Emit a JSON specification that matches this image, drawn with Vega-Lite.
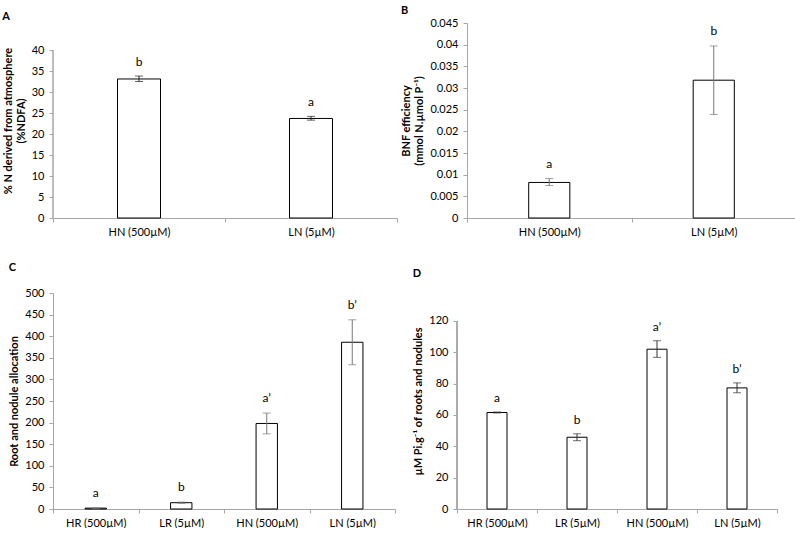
{
  "$schema": "https://vega.github.io/schema/vega-lite/v6.json",
  "padding": {"left": 2, "top": 5, "right": 0, "bottom": 0},
  "background": "white",
  "config": {
    "font": "Lato",
    "view": {"stroke": null},
    "axis": {"labelFont": "Lato", "labelFontSize": 11, "labelColor": "#000", "titleFont": "Lato", "titleFontSize": 11, "titleFontWeight": "bold", "titleColor": "#000", "domainColor": "#a6a6a6", "tickColor": "#a6a6a6", "tickSize": 4, "grid": false},
    "axisY": {"labelPadding": 5, "titlePadding": 5, "titleLineHeight": 13},
    "axisX": {"labelPadding": 4, "labelAngle": 0},
    "title": {"font": "Lato", "fontSize": 11, "fontWeight": "bold", "anchor": "start", "frame": "bounds", "color": "#000"}
  },
  "datasets": {
    "a": [
      {"group": "HN (500µM)", "value": 33.1, "low": 32.5, "high": 33.8, "letter": "b"},
      {"group": "LN (5µM)", "value": 23.7, "low": 23.3, "high": 24.2, "letter": "a"}
    ],
    "b": [
      {"group": "HN (500µM)", "value": 0.0082, "low": 0.0075, "high": 0.0091, "letter": "a"},
      {"group": "LN (5µM)", "value": 0.0318, "low": 0.0239, "high": 0.0397, "letter": "b"}
    ],
    "c": [
      {"group": "HR (500µM)", "value": 2, "low": 1.5, "high": 2.5, "letter": "a"},
      {"group": "LR (5µM)", "value": 14.6, "low": 13, "high": 16, "letter": "b"},
      {"group": "HN (500µM)", "value": 198, "low": 174, "high": 222, "letter": "a’"},
      {"group": "LN (5µM)", "value": 386, "low": 334, "high": 438, "letter": "b’"}
    ],
    "d": [
      {"group": "HR (500µM)", "value": 61.6, "low": 61.3, "high": 61.9, "letter": "a"},
      {"group": "LR (5µM)", "value": 45.8, "low": 43.6, "high": 48, "letter": "b"},
      {"group": "HN (500µM)", "value": 102, "low": 96.8, "high": 107.4, "letter": "a’"},
      {"group": "LN (5µM)", "value": 77.3, "low": 74.2, "high": 80.5, "letter": "b’"}
    ]
  },
  "spacing": 25,
  "vconcat": [
    {
      "spacing": 2,
      "hconcat": [
        {
          "title": {"text": "A", "offset": 1},
          "width": 344, "height": 195,
          "data": {"name": "a"},
          "encoding": {"x": {"field": "group", "type": "nominal", "sort": null, "scale": {"paddingInner": 0, "paddingOuter": 0}, "axis": {"title": null, "tickBand": "extent"}}},
          "layer": [
            {"mark": {"type": "rule", "color": "#a6a6a6"},
             "encoding": {"x": {"datum": "HN (500µM)", "type": "nominal", "bandPosition": 0}, "y": {"datum": 0, "type": "quantitative", "scale": {"domain": [0, 46.43], "nice": false}, "axis": {"title": ["% N derived from atmosphere", "(%NDFA)"], "domain": false, "values": [0, 5, 10, 15, 20, 25, 30, 35, 40]}}, "y2": {"datum": 40}}},
            {"mark": {"type": "bar", "fill": "white", "stroke": "#000", "strokeWidth": 1, "width": {"band": 0.25}},
             "encoding": {"y": {"field": "value", "type": "quantitative", "axis": {"title": ["% N derived from atmosphere", "(%NDFA)"], "domain": false, "values": [0, 5, 10, 15, 20, 25, 30, 35, 40]}}}},
            {"mark": {"type": "errorbar", "color": "#222", "ticks": {"size": 8}},
             "encoding": {"y": {"field": "low", "type": "quantitative", "axis": {"title": ["% N derived from atmosphere", "(%NDFA)"], "domain": false, "values": [0, 5, 10, 15, 20, 25, 30, 35, 40]}}, "y2": {"field": "high"}}},
            {"mark": {"type": "text", "dy": -14, "fontSize": 12, "font": "Lato", "fill": "#000"},
             "encoding": {"y": {"field": "high", "type": "quantitative", "axis": {"title": ["% N derived from atmosphere", "(%NDFA)"], "domain": false, "values": [0, 5, 10, 15, 20, 25, 30, 35, 40]}}, "text": {"field": "letter"}}}
          ]
        },
        {
          "title": {"text": "B", "offset": 1},
          "width": 329, "height": 195,
          "data": {"name": "b"},
          "encoding": {"x": {"field": "group", "type": "nominal", "sort": null, "scale": {"paddingInner": 0, "paddingOuter": 0}, "axis": {"title": null, "tickBand": "extent"}}},
          "layer": [
            {"mark": {"type": "bar", "fill": "white", "stroke": "#000", "strokeWidth": 1, "width": {"band": 0.25}},
             "encoding": {"y": {"field": "value", "type": "quantitative", "scale": {"domain": [0, 0.045], "nice": false}, "axis": {"title": ["BNF efficiency", "(mmol N.µmol P⁻¹)"], "format": "~f", "values": [0, 0.005, 0.01, 0.015, 0.02, 0.025, 0.03, 0.035, 0.04, 0.045]}}}},
            {"mark": {"type": "errorbar", "color": "#777", "ticks": {"size": 8}},
             "encoding": {"y": {"field": "low", "type": "quantitative", "axis": {"title": ["BNF efficiency", "(mmol N.µmol P⁻¹)"], "format": "~f", "values": [0, 0.005, 0.01, 0.015, 0.02, 0.025, 0.03, 0.035, 0.04, 0.045]}}, "y2": {"field": "high"}}},
            {"mark": {"type": "text", "dy": -15, "fontSize": 12, "font": "Lato", "fill": "#000"},
             "encoding": {"y": {"field": "high", "type": "quantitative", "axis": {"title": ["BNF efficiency", "(mmol N.µmol P⁻¹)"], "format": "~f", "values": [0, 0.005, 0.01, 0.015, 0.02, 0.025, 0.03, 0.035, 0.04, 0.045]}}, "text": {"field": "letter"}}}
          ]
        }
      ]
    },
    {
      "spacing": 16,
      "hconcat": [
        {
          "title": {"text": "C", "offset": 14},
          "width": 342, "height": 216,
          "data": {"name": "c"},
          "encoding": {"x": {"field": "group", "type": "nominal", "sort": null, "scale": {"paddingInner": 0, "paddingOuter": 0}, "axis": {"title": null, "tickBand": "extent"}}},
          "layer": [
            {"mark": {"type": "bar", "fill": "white", "stroke": "#000", "strokeWidth": 1, "width": {"band": 0.25}},
             "encoding": {"y": {"field": "value", "type": "quantitative", "scale": {"domain": [0, 500], "nice": false}, "axis": {"title": "Root and nodule allocation", "values": [0, 50, 100, 150, 200, 250, 300, 350, 400, 450, 500]}}}},
            {"mark": {"type": "errorbar", "color": "#777", "ticks": {"size": 8}},
             "encoding": {"y": {"field": "low", "type": "quantitative", "axis": {"title": "Root and nodule allocation", "values": [0, 50, 100, 150, 200, 250, 300, 350, 400, 450, 500]}}, "y2": {"field": "high"}}},
            {"mark": {"type": "text", "dy": -15, "fontSize": 12, "font": "Lato", "fill": "#000"},
             "encoding": {"y": {"field": "high", "type": "quantitative", "axis": {"title": "Root and nodule allocation", "values": [0, 50, 100, 150, 200, 250, 300, 350, 400, 450, 500]}}, "text": {"field": "letter"}}}
          ]
        },
        {
          "title": {"text": "D", "offset": 14},
          "width": 320, "height": 216,
          "data": {"name": "d"},
          "encoding": {"x": {"field": "group", "type": "nominal", "sort": null, "scale": {"paddingInner": 0, "paddingOuter": 0}, "axis": {"title": null, "tickBand": "extent"}}},
          "layer": [
            {"mark": {"type": "rule", "color": "#a6a6a6"},
             "encoding": {"x": {"datum": "HR (500µM)", "type": "nominal", "bandPosition": 0}, "y": {"datum": 0, "type": "quantitative", "scale": {"domain": [0, 137.87], "nice": false}, "axis": {"title": "µM Pi.g⁻¹ of roots  and nodules", "domain": false, "values": [0, 20, 40, 60, 80, 100, 120]}}, "y2": {"datum": 120}}},
            {"mark": {"type": "bar", "fill": "white", "stroke": "#000", "strokeWidth": 1, "width": {"band": 0.25}},
             "encoding": {"y": {"field": "value", "type": "quantitative", "axis": {"title": "µM Pi.g⁻¹ of roots  and nodules", "domain": false, "values": [0, 20, 40, 60, 80, 100, 120]}}}},
            {"mark": {"type": "errorbar", "color": "#333", "ticks": {"size": 8}},
             "encoding": {"y": {"field": "low", "type": "quantitative", "axis": {"title": "µM Pi.g⁻¹ of roots  and nodules", "domain": false, "values": [0, 20, 40, 60, 80, 100, 120]}}, "y2": {"field": "high"}}},
            {"mark": {"type": "text", "dy": -14, "fontSize": 12, "font": "Lato", "fill": "#000"},
             "encoding": {"y": {"field": "high", "type": "quantitative", "axis": {"title": "µM Pi.g⁻¹ of roots  and nodules", "domain": false, "values": [0, 20, 40, 60, 80, 100, 120]}}, "text": {"field": "letter"}}}
          ]
        }
      ]
    }
  ]
}
